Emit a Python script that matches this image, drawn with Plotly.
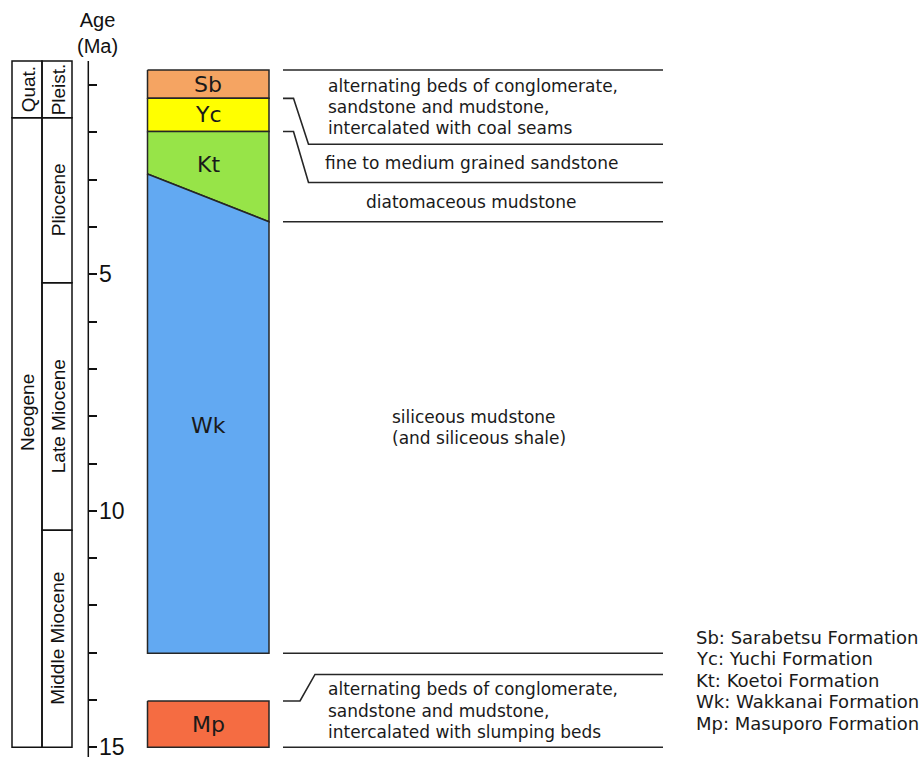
import plotly.graph_objects as go

# ---------------- data ----------------
# Formations in the stratigraphic column (ages in Ma)
formations = ["Sb", "Yc", "Kt", "Wk", "Mp"]
formation_names = ["Sarabetsu Formation", "Yuchi Formation", "Koetoi Formation",
                   "Wakkanai Formation", "Masuporo Formation"]
top_left = [0.68, 1.28, 1.98, 2.88, 14.02]
top_right = [0.68, 1.28, 1.98, 3.89, 14.02]
base_left = [1.28, 1.98, 2.88, 13.01, 15.0]
base_right = [1.28, 1.98, 3.89, 13.01, 15.0]
fill_colors = ["#F5A462", "#FFFF00", "#97E448", "#62A9F2", "#F56C42"]

# Geological time scale
periods = ["Quat.", "Neogene"]
period_top = [0.49, 1.69]
period_base = [1.69, 15.0]
epochs = ["Pleist.", "Pliocene", "Late Miocene", "Middle Miocene"]
epoch_top = [0.49, 1.69, 5.18, 10.41]
epoch_base = [1.69, 5.18, 10.41, 15.0]

# Lithology boundaries: age at the column side and age at the description side
boundary_col_age = [0.68, 1.28, 1.98, 3.89, 13.01, 14.02, 15.0]
boundary_lith_age = [0.68, 2.25, 3.06, 3.89, 13.01, 13.46, 15.0]

# Lithology descriptions (between consecutive description-side boundaries)
lithology = [
    ["alternating beds of conglomerate,", "sandstone and mudstone,", "intercalated with coal seams"],
    ["fine to medium grained sandstone"],
    ["diatomaceous mudstone"],
    ["siliceous mudstone", "(and siliceous shale)"],
    [],
    ["alternating beds of conglomerate,", "sandstone and mudstone,", "intercalated with slumping beds"],
]

# Axis ticks
tick_ages = list(range(1, 16))
tick_labels = ["" if a % 5 else str(a) for a in tick_ages]

# ---------------- layout constants ----------------
W, H = 922, 757
AGE_TOP, AGE_BOTTOM = -0.799, 15.205          # age at the top/bottom edge of the canvas
COL_X0, COL_X1 = 147.5, 269.0                 # stratigraphic column
LINE_X0, LINE_X1 = 283.0, 663.0               # description rule lines
AXIS_X = 88.3
TS_X = [12.0, 42.0, 72.0]                     # time-scale columns
TEXT_FONT = "DejaVu Sans"
AXIS_FONT = "Liberation Sans, Arial"
LINE_H = 21.4
DARK = "#262626"


def py_to_paper(py):
    return 1 - py / H


fig = go.Figure()

# Stratigraphic column polygons
for name, tl, tr, bl, br, col in zip(formations, top_left, top_right,
                                     base_left, base_right, fill_colors):
    fig.add_trace(go.Scatter(
        x=[COL_X0, COL_X1, COL_X1, COL_X0, COL_X0],
        y=[tl, tr, br, bl, tl],
        mode="lines", fill="toself", fillcolor=col,
        line=dict(color=DARK, width=1.5),
        hoverinfo="skip", showlegend=False,
    ))
    mid = ((tl + tr) / 2 + (bl + br) / 2) / 2
    fig.add_annotation(x=(COL_X0 + COL_X1) / 2, y=mid, xref="x", yref="y",
                       yanchor="middle", text=name, showarrow=False,
                       font=dict(family=TEXT_FONT, size=22, color="#1a1a1a"))

# Rule lines from the column to the description panel
for c_age, l_age in zip(boundary_col_age, boundary_lith_age):
    if abs(c_age - l_age) < 1e-9:
        xs, ys = [LINE_X0, LINE_X1], [c_age, l_age]
    elif l_age > c_age:
        xs, ys = [LINE_X0, 293.5, 308.5, LINE_X1], [c_age, c_age, l_age, l_age]
    else:
        xs, ys = [LINE_X0, 300.0, 315.0, LINE_X1], [c_age, c_age, l_age, l_age]
    fig.add_trace(go.Scatter(x=xs, y=ys, mode="lines",
                             line=dict(color=DARK, width=1.6),
                             hoverinfo="skip", showlegend=False))

# Lithology descriptions
desc_pos = {0: ("left", 326.0), 1: ("center", 471.0), 2: ("center", 471.0),
            3: ("left", 390.0), 5: ("left", 326.0)}
desc_center_age = {3: 8.24}
for i, lines in enumerate(lithology):
    if not lines:
        continue
    anchor, x = desc_pos[i]
    yc = desc_center_age.get(i, (boundary_lith_age[i] + boundary_lith_age[i + 1]) / 2)
    n = len(lines)
    for k, txt in enumerate(lines):
        fig.add_annotation(x=x, y=yc, xref="x", yref="y", xanchor=anchor, yanchor="middle",
                           yshift=-(k - (n - 1) / 2) * LINE_H,
                           text=txt, showarrow=False,
                           font=dict(family=TEXT_FONT, size=17, color="#1a1a1a"))

# Time scale boxes
ts_label_age = {"Neogene": 7.93, "Late Miocene": 8.0}
for names, tops, bases, (x0, x1) in ((periods, period_top, period_base, (TS_X[0], TS_X[1])),
                                     (epochs, epoch_top, epoch_base, (TS_X[1], TS_X[2]))):
    for nm, t, b in zip(names, tops, bases):
        fig.add_shape(type="rect", xref="x", yref="y", x0=x0, x1=x1, y0=t, y1=b,
                      line=dict(color="#111", width=1.5), fillcolor="rgba(0,0,0,0)")
        fig.add_annotation(x=(x0 + x1) / 2 + 1, y=ts_label_age.get(nm, (t + b) / 2),
                           xref="x", yref="y", yanchor="middle", text=nm, textangle=-90,
                           showarrow=False,
                           font=dict(family=AXIS_FONT, size=19, color="#111"))

# Age axis line
fig.add_shape(type="line", xref="x", yref="y", x0=AXIS_X, x1=AXIS_X,
              y0=epoch_top[0], y1=AGE_BOTTOM, line=dict(color="#111", width=1.5))

# Axis title
fig.add_annotation(x=97, y=py_to_paper(33), xref="x", yref="paper", yanchor="middle",
                   text="Age<br>(Ma)", showarrow=False,
                   font=dict(family=AXIS_FONT, size=20, color="#111"))

# Formation key
for k, (ab, nm) in enumerate(zip(formations, formation_names)):
    fig.add_annotation(x=694, y=py_to_paper(637 + k * 21.5), xref="x", yref="paper",
                       xanchor="left", yanchor="middle", text=f"{ab}: {nm}",
                       showarrow=False,
                       font=dict(family=TEXT_FONT, size=18, color="#1a1a1a"))

fig.update_layout(
    width=W, height=H, autosize=False,
    margin=dict(l=0, r=0, t=0, b=0, pad=0),
    paper_bgcolor="white", plot_bgcolor="white",
    xaxis=dict(range=[0, W], visible=False, domain=[0, 1], automargin=False),
    yaxis=dict(range=[AGE_BOTTOM, AGE_TOP], anchor="free", position=AXIS_X / W,
               side="right", showline=False, showgrid=False, zeroline=False,
               automargin=False, ticklabelstandoff=-3,
               ticks="outside", ticklen=8, tickwidth=1.5, tickcolor="#111",
               tickvals=tick_ages, ticktext=tick_labels, ticklabeloverflow="allow",
               tickfont=dict(family=AXIS_FONT, size=23, color="#111")),
    showlegend=False,
)

fig.write_html("out.html")
